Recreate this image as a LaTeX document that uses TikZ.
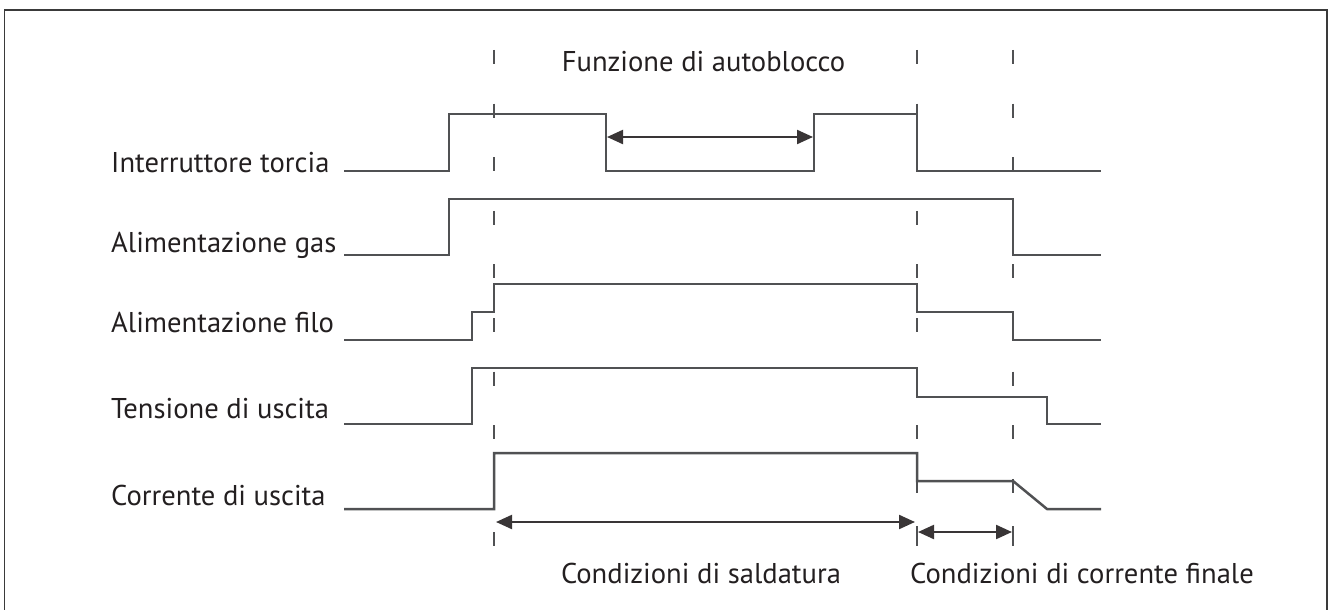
\documentclass[tikz,border=0pt]{standalone}
\usepackage{fontspec}
\setmainfont{PT Sans}
\usetikzlibrary{arrows.meta}
\definecolor{sig}{HTML}{505153}
\definecolor{txt}{HTML}{231F20}
\definecolor{frm}{HTML}{3A3A3A}
\tikzset{
  signal/.style={draw=sig, line width=2.5pt, line join=miter},
  guide/.style={draw=sig, line width=1.4pt, dash pattern=on 14pt off 39.6pt},
  span/.style={draw=txt!90, line width=2.2pt, {Triangle[length=16pt,width=14pt]}-{Triangle[length=16pt,width=14pt]}},
  lab/.style={inner sep=0pt, anchor=base west, text=txt, font=\fontsize{28.6}{31}\selectfont},
  ttl/.style={inner sep=0pt, anchor=base, text=txt, font=\fontsize{28.6}{31}\selectfont},
  tick/.style={draw=sig, line width=1.4pt}
}
\begin{document}
\begin{tikzpicture}[x=1pt,y=-1pt]
\useasboundingbox (0,0) rectangle (1333,610);
% frame
\draw[frm, line width=1.3pt] (4.5,612) -- (4.5,10) -- (1327,10) -- (1327,612);
% guide lines
\foreach \gx in {494,917,1013}{
  \draw[guide] (\gx,50) -- (\gx,546);
}
% labels
\node[lab] (l1) at (111,172) {Interruttore torcia};
\node[lab] (l2) at (111,252) {Alimentazione gas};
\node[lab] (l3) at (111,332) {Alimentazione filo};
\node[lab] (l4) at (111,418) {Tensione di uscita};
\node[lab] (l5) at (111,505) {Corrente di uscita};
\node[ttl] (t1) at (703.5,72) {Funzione di autoblocco};
\node[ttl] (t2) at (701,583) {Condizioni di saldatura};
\node[ttl] (t3) at (1082,583) {Condizioni di corrente finale};
% signals
\draw[signal] (344,171) -- (449,171) -- (449,114) -- (606,114) -- (606,171) -- (814,171) -- (814,114) -- (917,114) -- (917,171) -- (1101,171);
\draw[signal] (344,255) -- (449,255) -- (449,199) -- (1013,199) -- (1013,255) -- (1101,255);
\draw[signal] (344,340) -- (472,340) -- (472,312) -- (494,312) -- (494,284) -- (917,284) -- (917,312) -- (1013,312) -- (1013,340) -- (1101,340);
\draw[signal] (344,424) -- (472,424) -- (472,368) -- (917,368) -- (917,397) -- (1047,397) -- (1047,424) -- (1101,424);
\draw[signal] (344,509) -- (494,509) -- (494,453) -- (917,453) -- (917,481) -- (1013,481) -- (1047,509) -- (1101,509);
% spans
\coordinate (a1) at (607,137);
\coordinate (a2) at (813,137);
\coordinate (b1) at (496,522);
\coordinate (b2) at (915,522);
\coordinate (c1) at (918,532);
\coordinate (c2) at (1012,532);
\draw[span] (a1) -- (a2);
\draw[span] (b1) -- (b2);
\draw[span] (c1) -- (c2);
\draw[tick] (917,526) -- (917,546);
\draw[tick] (1013,526) -- (1013,546);
\end{tikzpicture}
\end{document}
